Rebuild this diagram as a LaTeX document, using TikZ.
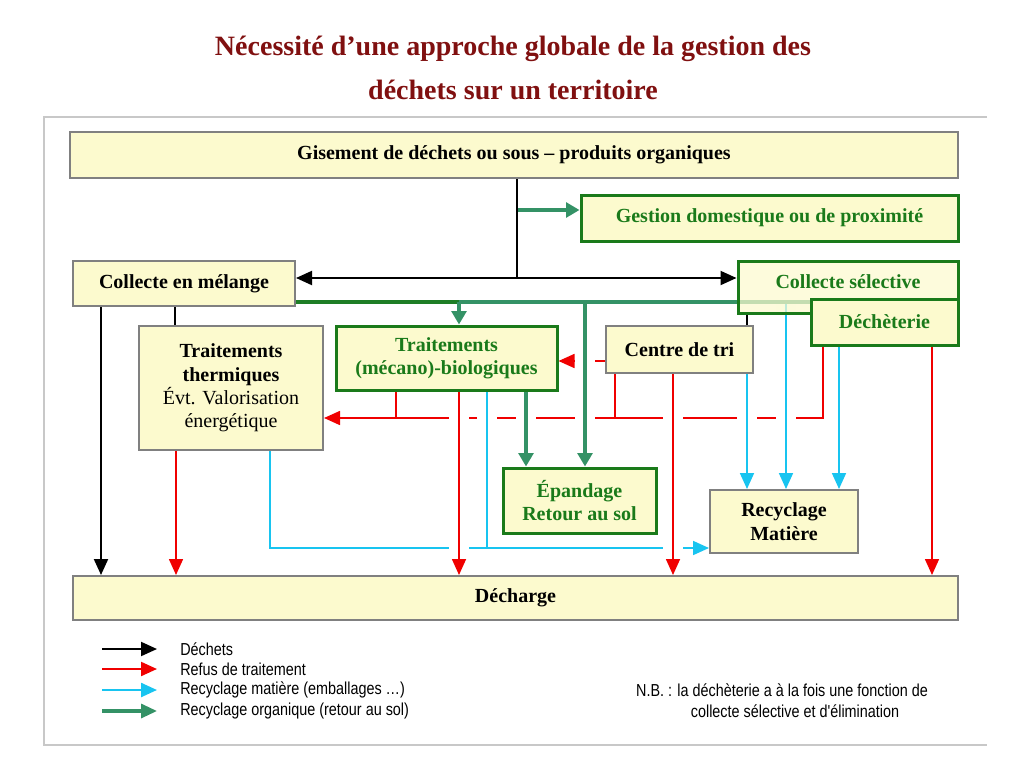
\documentclass[tikz,border=0pt]{standalone}
\usepackage{fontspec}
\setmainfont{Liberation Serif}
\newfontfamily\legfont[FakeStretch=0.83]{Liberation Sans}
\usetikzlibrary{arrows.meta,calc}
\pgfdeclarelayer{bg}
\pgfsetlayers{bg,main}
\definecolor{boxfill}{RGB}{252,250,206}
\definecolor{boxgray}{RGB}{128,128,128}
\definecolor{dgreen}{RGB}{26,122,26}
\definecolor{sgreen}{RGB}{52,146,102}
\definecolor{cyanl}{RGB}{24,196,240}
\definecolor{redl}{RGB}{240,0,0}
\definecolor{titlered}{RGB}{128,16,16}
\definecolor{framegray}{RGB}{200,200,200}
\begin{document}
\begin{tikzpicture}[x=0.75pt,y=-0.75pt,
  wh/.style 2 args={minimum width=#1*0.75pt, minimum height=#2*0.75pt},
  box/.style={draw=boxgray, line width=1.5pt, fill=boxfill, inner sep=0pt, align=center,
    font=\fontsize{15}{17.5}\selectfont\bfseries},
  gbox/.style={box, draw=dgreen, line width=2.25pt, text=dgreen},
  bl/.style={draw=black, line width=1.5pt},
  rl/.style={draw=redl, line width=1.2pt},
  cl/.style={draw=cyanl, line width=1.3pt},
  gl/.style={draw=sgreen, line width=2.4pt},
  btip/.style={-{Triangle[length=12pt,width=10.5pt]}},
  gtip/.style={-{Triangle[length=10pt,width=11pt]}},
  halo/.style={preaction={draw=white, line width=15pt, arrows=-}},
  leg/.style={font=\legfont\fontsize{13}{15}\selectfont, inner sep=0pt}
]
\useasboundingbox (0,0) rectangle (1024,768);

% title
\node[text=titlered, font=\fontsize{21}{33}\selectfont\bfseries, align=center] (title) at (513,68)
  {Nécessité d’une approche globale de la gestion des\\déchets sur un territoire};

% frame
\draw[framegray, line width=2pt] (987,117) -- (44,117) -- (44,745) -- (987,745);

% boxes
\node[box, wh={888}{46}] (gis) at (514,155) {Gisement de déchets ou sous – produits organiques};
\node[gbox, wh={377}{46}] (gest) at (769.5,218) {Gestion domestique ou de proximité};
\node[box, wh={222}{45}] (cmel) at (184,283.5) {Collecte en mélange};
\node[gbox, wh={220}{52}, fill opacity=0.72, text opacity=1, text depth=8pt] (csel) at (848,287) {Collecte sélective};
\node[gbox, wh={147}{46}] (dech) at (884.5,322) {Déchèterie};
\node[box, wh={184}{124}] (therm) at (231,388) {Traitements\\thermiques\\\mdseries Évt. Valorisation\\\mdseries énergétique};
\node[gbox, wh={221}{64}] (bio) at (446.5,358) {Traitements\\(mécano)-biologiques};
\node[box, wh={147}{47}] (tri) at (679.5,349.5) {Centre de tri};
\node[gbox, wh={153}{65}] (epan) at (579.5,500.5) {Épandage\\Retour au sol};
\node[box, wh={148}{63}] (recy) at (784,521.5) {Recyclage\\Matière};
\node[box, wh={885}{44}] (dch) at (515.5,598) {Décharge};

\begin{pgfonlayer}{bg}
% red refus lines (horizontal network first)
\draw[rl, btip] (tri.west |- 0,361) -- (bio.east |- 0,361);
\draw[rl, btip] (823,0 |- dech.south) -- (823,418) -- (therm.east |- 0,418);
\draw[rl] (615,0 |- tri.south) -- (615,418);
\draw[rl] (396,0 |- bio.south) -- (396,418);
% cyan from bio to horizontal
\draw[cl, halo] (487,0 |- bio.south) -- (487,548);
\draw[cl, btip] (270,0 |- therm.south) -- (270,548) -- (recy.west |- 0,548);
% red verticals to decharge
\draw[rl, btip] (176,0 |- therm.south) -- (176,0 |- dch.north);
\draw[rl, btip, halo] (459,0 |- bio.south) -- (459,0 |- dch.north);
\draw[rl, btip, halo] (673,0 |- tri.south) -- (673,0 |- dch.north);
\draw[rl, btip] (932,0 |- dech.south) -- (932,0 |- dch.north);
% green verticals
\draw[gl, gtip, halo] (585,302) -- (585,0 |- epan.north);
\draw[gl, gtip, halo] (526,0 |- bio.south) -- (526,0 |- epan.north);
% cyan verticals
\draw[cl, btip, halo] (747,0 |- tri.south) -- (747,0 |- recy.north);
\draw[cl, btip, halo] (786,302) -- (786,0 |- recy.north);
\draw[cl, btip] (839,0 |- dech.south) -- (839,0 |- recy.north);
% green horizontal
\draw[gl] (459,302) -- (dech.west |- 0,302);
\draw[gl, draw=dgreen!85!sgreen] (cmel.east |- 0,302) -- (459,302);
\draw[gl, gtip] (459,302) -- (459,0 |- bio.north);
\draw[gl, gtip] (517,210) -- (gest.west |- 0,210);
% black
\draw[bl] (517,0 |- gis.south) -- (517,278);
\draw[bl, {Triangle[length=12pt,width=10.5pt]}-{Triangle[length=12pt,width=10.5pt]}] (cmel.east |- 0,278) -- (csel.west |- 0,278);
\draw[bl, btip] (101,0 |- cmel.south) -- (101,0 |- dch.north);
\draw[bl] (175,0 |- cmel.south) -- (175,0 |- therm.north);
\draw[bl] (747,0 |- csel.south) -- (747,0 |- tri.north);
\end{pgfonlayer}

% legend
\coordinate (la1) at (102,649); \coordinate (lb1) at (157,649);
\coordinate (la2) at (102,669); \coordinate (lb2) at (157,669);
\coordinate (la3) at (102,690); \coordinate (lb3) at (157,690);
\coordinate (la4) at (102,711); \coordinate (lb4) at (157,711);
\draw[bl, btip] (la1) -- (lb1);
\draw[rl, line width=1.6pt, btip] (la2) -- (lb2);
\draw[cl, line width=1.8pt, btip] (la3) -- (lb3);
\draw[gl, line width=2.4pt, btip] (la4) -- (lb4);
\node[leg, anchor=west] (t1) at (180,649) {Déchets};
\node[leg, anchor=west] (t2) at (180,669) {Refus de traitement};
\node[leg, anchor=west] (t3) at (180,690) {Recyclage matière (emballages …)};
\node[leg, anchor=west] (t4) at (180,711) {Recyclage organique (retour au sol)};
\node[leg] (nb1) at (782,690) {N.B. : la déchèterie a à la fois une fonction de};
\node[leg] (nb2) at (795,711) {collecte sélective et d'élimination};
\end{tikzpicture}
\end{document}
